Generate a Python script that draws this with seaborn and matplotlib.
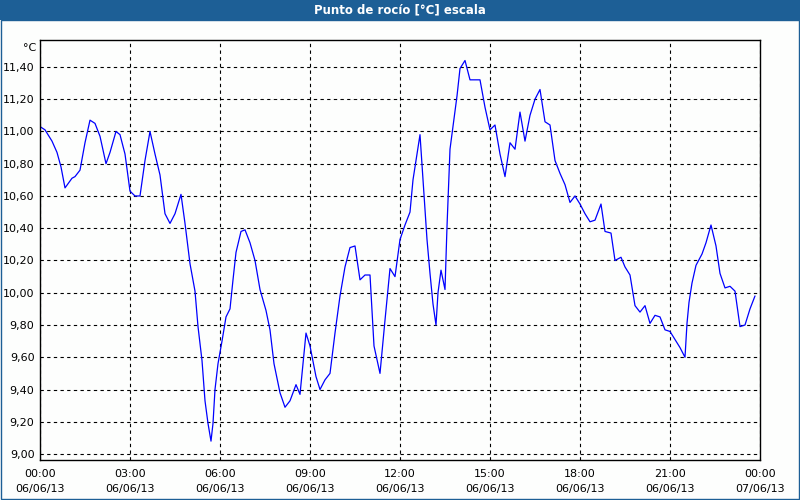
import numpy as np
import pandas as pd
import matplotlib
matplotlib.use("Agg")
import matplotlib.pyplot as plt
import seaborn as sns
from matplotlib.patches import Rectangle

# minutes since 06/06/13 00:00 and dew point readings (°C)
minutes = [0, 10, 16, 24, 34, 42, 50, 64, 70, 80,
           90, 100, 110, 120, 132, 140, 152, 160, 170, 180,
           190, 200, 210, 220, 230, 240, 250, 260, 270, 282,
           290, 300, 310, 316, 324, 330, 336, 342, 346, 350,
           356, 364, 372, 380, 386, 392, 402, 410, 420, 430,
           440, 452, 460, 468, 480, 490, 500, 512, 520, 532,
           540, 552, 560, 570, 580, 590, 600, 610, 620, 630,
           640, 650, 660, 668, 680, 690, 700, 710, 720, 730,
           740, 746, 754, 760, 766, 774, 780, 786, 792, 796,
           802, 806, 810, 814, 820, 826, 834, 840, 850, 860,
           870, 880, 890, 900, 910, 920, 930, 940, 950, 960,
           970, 980, 990, 1000, 1010, 1020, 1030, 1040, 1050, 1060,
           1070, 1080, 1090, 1100, 1110, 1122, 1130, 1142, 1150, 1162,
           1170, 1180, 1190, 1200, 1210, 1220, 1230, 1240, 1250, 1260,
           1270, 1280, 1290, 1294, 1298, 1304, 1312, 1324, 1332, 1342,
           1352, 1360, 1370, 1380, 1390, 1400, 1410, 1420, 1430]
dew_point = [11.03, 11.01, 10.98, 10.94, 10.87, 10.78, 10.65, 10.71, 10.72, 10.76,
             10.93, 11.07, 11.05, 10.97, 10.80, 10.87, 11.00, 10.98, 10.86, 10.63,
             10.60, 10.60, 10.82, 11.00, 10.86, 10.73, 10.49, 10.43, 10.49, 10.61,
             10.43, 10.18, 10.01, 9.79, 9.58, 9.33, 9.19, 9.08, 9.19, 9.40,
             9.56, 9.70, 9.85, 9.90, 10.08, 10.25, 10.38, 10.39, 10.31, 10.20,
             10.02, 9.89, 9.77, 9.56, 9.38, 9.29, 9.33, 9.43, 9.37, 9.75,
             9.67, 9.48, 9.40, 9.46, 9.50, 9.75, 9.98, 10.16, 10.28, 10.29,
             10.08, 10.11, 10.11, 9.67, 9.50, 9.83, 10.15, 10.10, 10.33, 10.42,
             10.50, 10.70, 10.86, 10.98, 10.70, 10.33, 10.12, 9.93, 9.80, 10.00,
             10.14, 10.08, 10.02, 10.41, 10.89, 11.03, 11.22, 11.39, 11.44, 11.32,
             11.32, 11.32, 11.15, 11.01, 11.04, 10.86, 10.72, 10.93, 10.89, 11.12,
             10.94, 11.10, 11.20, 11.26, 11.06, 11.04, 10.82, 10.74, 10.67, 10.56,
             10.60, 10.55, 10.49, 10.44, 10.45, 10.55, 10.38, 10.37, 10.20, 10.22,
             10.16, 10.11, 9.92, 9.88, 9.92, 9.81, 9.86, 9.85, 9.77, 9.76,
             9.71, 9.66, 9.60, 9.81, 9.94, 10.06, 10.17, 10.24, 10.31, 10.42,
             10.29, 10.12, 10.03, 10.04, 10.01, 9.79, 9.80, 9.90, 9.98]

x_ticks = [0, 180, 360, 540, 720, 900, 1080, 1260, 1440]
x_tick_labels = ["00:00\n06/06/13", "03:00\n06/06/13", "06:00\n06/06/13",
                 "09:00\n06/06/13", "12:00\n06/06/13", "15:00\n06/06/13",
                 "18:00\n06/06/13", "21:00\n06/06/13", "00:00\n07/06/13"]
y_ticks = [9.0, 9.2, 9.4, 9.6, 9.8, 10.0, 10.2, 10.4, 10.6, 10.8, 11.0, 11.2, 11.4]

df = pd.DataFrame({"minute": minutes, "dew": dew_point})

sns.set_style("white")
plt.rcParams['font.family'] = ['DejaVu Sans']

fig = plt.figure(figsize=(8, 5), dpi=100)
fig.patch.set_facecolor("#fdfefd")

# title bar and blue frame
fig.add_artist(Rectangle((0, 1 - 20 / 500), 1, 20 / 500, transform=fig.transFigure,
                         facecolor="#1d5f96", edgecolor="none"))
fig.add_artist(Rectangle((1 / 800, 1 / 500), 798 / 800, 479 / 500,
                         transform=fig.transFigure, facecolor="none",
                         edgecolor="#1d5f96", linewidth=1.0))
fig.text(0.5, 1 - 10 / 500, "Punto de rocío [°C] escala", color="white",
         fontsize=8.5, fontweight="bold", ha="center", va="center")

ax = fig.add_axes([40 / 800, 40 / 500, 720 / 800, 420 / 500])
ax.set_facecolor("#fdfefd")
sns.lineplot(data=df, x="minute", y="dew", ax=ax, color="#0000ff", linewidth=0.9)

ax.set_xlim(0, 1440)
ax.set_ylim(8.963, 11.567)
ax.set_xticks(x_ticks)
ax.set_xticklabels(x_tick_labels, fontsize=8, linespacing=1.6)
ax.set_xticks(range(0, 1441, 60), minor=True)
ax.set_yticks(y_ticks)
ax.set_yticklabels([f"{v:.2f}".replace(".", ",") for v in y_ticks], fontsize=8)
ax.tick_params(axis="x", which="both", direction="out", length=3.5, width=0.8,
               color="black", labelcolor="black", pad=3)
ax.tick_params(axis="y", length=0, pad=4, labelcolor="black")
ax.set_xlabel("")
ax.set_ylabel("")
ax.grid(True, which="major", color="black", linestyle=(0, (3, 3)), linewidth=0.8)
for s in ax.spines.values():
    s.set_color("black")
    s.set_linewidth(1.0)
ax.text(-0.005, 11.52, "°C", transform=ax.get_yaxis_transform(), ha="right",
        va="center", fontsize=8, color="black")

fig.savefig("out.png", dpi=100, facecolor=fig.get_facecolor())
